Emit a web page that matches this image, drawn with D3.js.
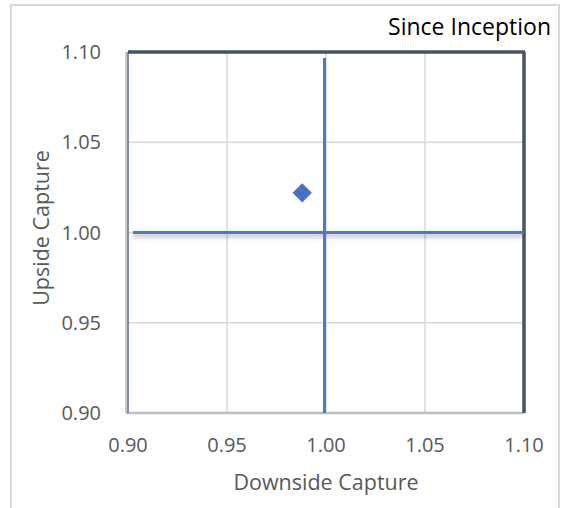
<!DOCTYPE html>
<html><head><meta charset="utf-8">
<script src="https://cdn.jsdelivr.net/npm/d3@7"></script>
<style>body{margin:0;background:#fff}text{font-family:"Open Sans","Liberation Sans",sans-serif}</style>
</head><body><svg id="c" width="561" height="508"></svg>
<script>
const title = "Since Inception";
const xTitle = "Downside Capture";
const yTitle = "Upside Capture";
const xTicks = [0.90, 0.95, 1.00, 1.05, 1.10];
const yTicks = [0.90, 0.95, 1.00, 1.05, 1.10];
const pointX = [0.988];
const pointY = [1.022];
const refX = [1.00];
const refY = [1.00];

const svg = d3.select("#c");
const defs = svg.append("defs");
const f = defs.append("filter").attr("id","sh").attr("filterUnits","userSpaceOnUse")
  .attr("x",0).attr("y",0).attr("width",561).attr("height",508);
f.append("feDropShadow").attr("dx",0).attr("dy",3).attr("stdDeviation",2).attr("flood-color","#000").attr("flood-opacity",0.3);

svg.append("rect").attr("x",11).attr("y",5).attr("width",548).attr("height",510).attr("fill","#fff").attr("stroke","#d9d9d9").attr("stroke-width",2);

const x = d3.scaleLinear().domain([0.9,1.1]).range([128,524]);
const y = d3.scaleLinear().domain([0.9,1.1]).range([413,52]);

const g = svg.append("g");
// gridlines
g.selectAll(".gx").data(xTicks.slice(1,-1)).join("line").attr("x1",d=>x(d)).attr("x2",d=>x(d)).attr("y1",y(1.1)).attr("y2",y(0.9)).attr("stroke","#d9d9d9").attr("stroke-width",1.5);
g.selectAll(".gy").data(yTicks.slice(1,-1)).join("line").attr("y1",d=>y(d)).attr("y2",d=>y(d)).attr("x1",x(0.9)).attr("x2",x(1.1)).attr("stroke","#d9d9d9").attr("stroke-width",1.5);

// frame
g.append("line").attr("x1",x(0.9)-2).attr("x2",x(1.1)).attr("y1",y(0.9)).attr("y2",y(0.9)).attr("stroke","#bfbfbf").attr("stroke-width",2.5);
g.append("line").attr("x1",x(0.9)-2).attr("x2",x(0.9)-2).attr("y1",y(1.1)).attr("y2",y(0.9)).attr("stroke","#c8c8c8").attr("stroke-width",2);
g.append("line").attr("x1",x(0.9)).attr("x2",x(0.9)).attr("y1",y(1.1)).attr("y2",y(0.9)).attr("stroke","#5a6a80").attr("stroke-width",1.5);
g.append("line").attr("x1",x(0.9)).attr("x2",x(1.1)+1).attr("y1",y(1.1)).attr("y2",y(1.1)).attr("stroke","#44546a").attr("stroke-width",3.5);
g.append("line").attr("x1",x(1.1)).attr("x2",x(1.1)).attr("y1",y(1.1)).attr("y2",y(0.9)).attr("stroke","#44546a").attr("stroke-width",3.5);

// reference lines
g.selectAll(".ry").data(refY).join("line").attr("x1",x(0.9)+5).attr("x2",x(1.1)).attr("y1",d=>y(d)).attr("y2",d=>y(d)).attr("stroke","#4a7cc4").attr("stroke-width",3).attr("filter","url(#sh)");
g.selectAll(".rx").data(refX).join("line").attr("x1",d=>x(d)-1.5).attr("x2",d=>x(d)-1.5).attr("y1",y(1.1)+6).attr("y2",y(0.9)).attr("stroke","#4a7cc4").attr("stroke-width",3);

// point
g.selectAll(".pt").data(pointX.map((v,i)=>[v,pointY[i]])).join("path")
 .attr("d",d3.symbol().type(d3.symbolDiamond2).size(235))
 .attr("transform",d=>`translate(${x(d[0])},${y(d[1])})`).attr("fill","#4472c4");

// tick labels
svg.selectAll(".xt").data(xTicks).join("text").attr("x",d=>x(d)).attr("y",452).attr("text-anchor","middle").attr("font-size",20).attr("fill","#595959").text(d=>d.toFixed(2));
svg.selectAll(".yt").data(yTicks).join("text").attr("x",101).attr("y",d=>y(d)+7).attr("text-anchor","end").attr("font-size",20).attr("fill","#595959").text(d=>d.toFixed(2));

svg.append("text").attr("x",(x(0.9)+x(1.1))/2).attr("y",490).attr("text-anchor","middle").attr("font-size",21.5).attr("fill","#595959").text(xTitle);
svg.append("text").attr("transform",`translate(49,228) rotate(-90)`).attr("text-anchor","middle").attr("font-size",21.5).attr("fill","#595959").text(yTitle);
svg.append("text").attr("x",551).attr("y",35).attr("text-anchor","end").attr("font-size",23).attr("fill","#000").text(title);
</script></body></html>
